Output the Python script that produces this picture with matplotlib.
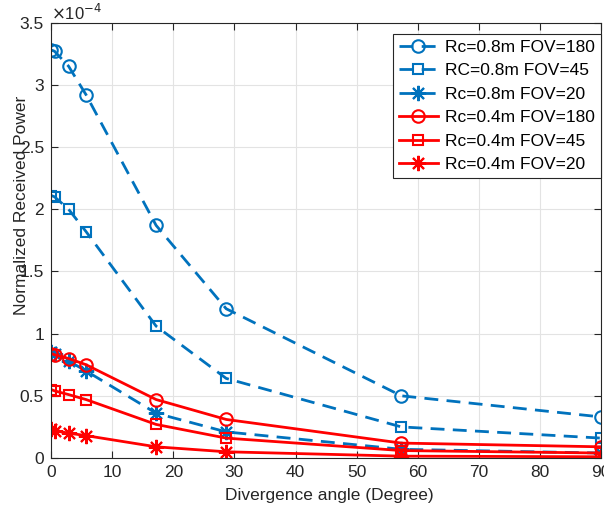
import numpy as np
import matplotlib
matplotlib.use("Agg")
import matplotlib.pyplot as plt

plt.rcParams['font.family'] = ['Liberation Sans', 'DejaVu Sans']

# divergence angle in degrees (0.001, 0.01, 0.05, 0.1, 0.3, 0.5, 1 rad, pi/2)
angle = [0.057, 0.573, 2.865, 5.73, 17.19, 28.65, 57.3, 90.0]

# normalized received power, units of 1e-4
rc08_fov180 = [3.28, 3.27, 3.15, 2.92, 1.87, 1.20, 0.50, 0.33]
rc08_fov45 = [2.11, 2.10, 2.00, 1.82, 1.06, 0.64, 0.25, 0.16]
rc08_fov20 = [0.85, 0.84, 0.78, 0.70, 0.36, 0.21, 0.07, 0.04]
rc04_fov180 = [0.84, 0.83, 0.80, 0.75, 0.47, 0.31, 0.12, 0.09]
rc04_fov45 = [0.55, 0.54, 0.51, 0.47, 0.27, 0.16, 0.06, 0.04]
rc04_fov20 = [0.23, 0.22, 0.20, 0.18, 0.09, 0.05, 0.015, 0.01]

labels = ['Rc=0.8m FOV=180', 'RC=0.8m FOV=45', 'Rc=0.8m FOV=20',
          'Rc=0.4m FOV=180', 'Rc=0.4m FOV=45', 'Rc=0.4m FOV=20']

blue = '#0072BD'
red = '#FF0000'

fig = plt.figure(figsize=(6.04, 5.08), dpi=100)
ax = fig.add_axes([0.0845, 0.0984, 0.911, 0.857])

x = np.array(angle)
series = [rc08_fov180, rc08_fov45, rc08_fov20, rc04_fov180, rc04_fov45, rc04_fov20]
markers = ['o', 's', (8, 2, 0), 'o', 's', (8, 2, 0)]
sizes = [9, 7.5, 11, 9, 7.5, 11]
for i, (yv, m, ms, lab) in enumerate(zip(series, markers, sizes, labels)):
    c = blue if i < 3 else red
    ls = (0, (5, 3)) if i < 3 else '-'
    ax.plot(x, np.array(yv), linestyle=ls, color=c, lw=2, marker=m,
            markersize=ms, markerfacecolor='none', markeredgecolor=c,
            markeredgewidth=1.5, label=lab)

ax.set_xlim(0, 90)
ax.set_ylim(0, 3.5)
ax.set_xticks(np.arange(0, 91, 10))
ax.set_yticks(np.arange(0, 3.51, 0.5))
ax.set_yticklabels(['0', '0.5', '1', '1.5', '2', '2.5', '3', '3.5'])
ax.tick_params(direction='in', top=True, right=True, labelsize=12.5,
               colors='#262626', length=5, pad=5)
for s in ax.spines.values():
    s.set_color('#262626')
    s.set_linewidth(0.8)
ax.grid(True, color='#e3e3e3', lw=0.8)
ax.set_axisbelow(True)

ax.set_xlabel('Divergence angle (Degree)', fontsize=12.5, color='#262626')
ax.xaxis.set_label_coords(0.505, -0.068)
ax.set_ylabel('Normalized Received Power', fontsize=12.5, color='#262626')
ax.yaxis.set_label_coords(-0.04, 0.58)
ax.text(0.0, 1.0, r'$\times$10$^{-4}$', transform=ax.transAxes, fontsize=12,
        color='#262626', va='bottom', ha='left')

leg = ax.legend(loc='upper right', bbox_to_anchor=(1.0, 0.975), fontsize=12.5,
                handlelength=2.2, borderpad=0.35, labelspacing=0.48,
                handletextpad=0.45, fancybox=False, framealpha=1,
                edgecolor='#262626', borderaxespad=0.0)
leg.get_frame().set_linewidth(0.8)

fig.savefig('out.png', dpi=100)
